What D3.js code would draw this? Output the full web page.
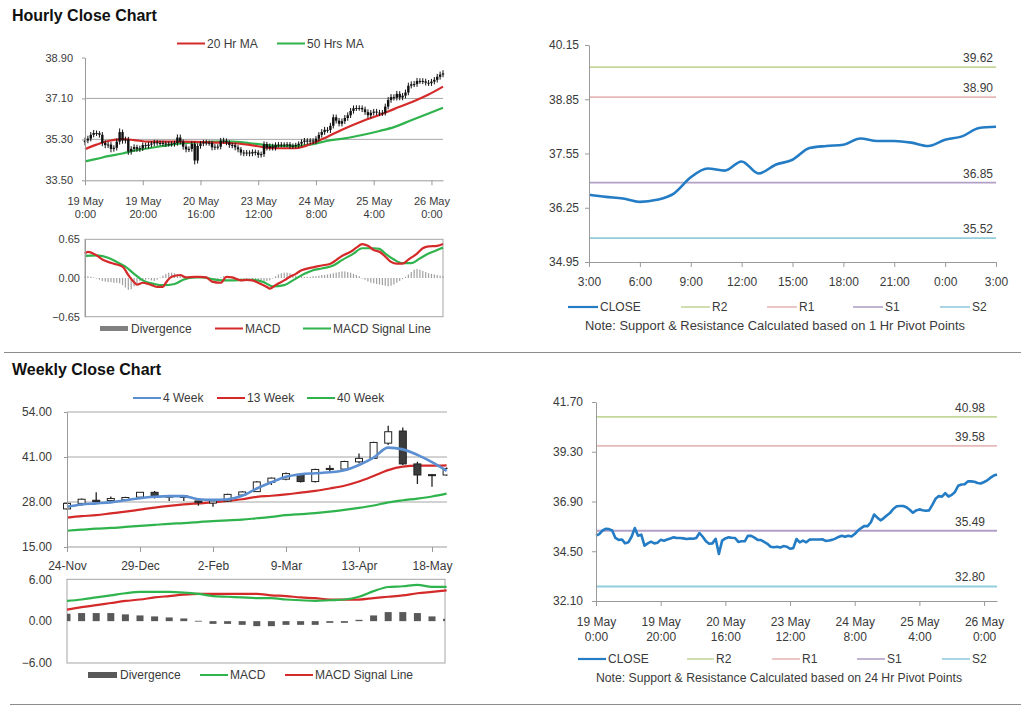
<!DOCTYPE html>
<html><head><meta charset="utf-8">
<script src="https://cdn.jsdelivr.net/npm/d3@7"></script>
<style>
body{margin:0;background:#fff;}
svg{display:block;font-family:"Liberation Sans",Arial,sans-serif;}
.axis path,.axis line{stroke:#9a9a9a;stroke-width:1;}
.axis text{fill:#3a3a3a;}
</style></head><body>
<svg id="c" width="1024" height="706"></svg>
<script>
// ---------------- DATA ----------------
// Hourly bars (19 May 0:00 .. 26 May ~4:00), 125 trading hours
const hourlyTickIdx = [0,20,40,60,80,100,120];
const hourlyTickDay = ["19 May","19 May","20 May","23 May","24 May","25 May","26 May"];
const hourlyTickTime = ["0:00","20:00","16:00","12:00","8:00","4:00","0:00"];
const hourlyOpen = [35.18,35.25,35.33,35.50,35.58,35.57,35.50,35.14,35.05,35.07,
 34.88,34.93,35.20,35.62,35.25,35.30,34.77,34.88,34.96,34.88,
 34.91,35.05,35.01,35.07,35.12,35.17,35.14,35.14,35.12,35.09,
 35.11,35.10,35.14,35.38,35.20,34.98,34.86,34.88,35.10,34.37,
 35.01,35.12,35.17,35.15,35.14,34.95,34.98,34.98,35.25,35.24,
 35.16,35.05,35.04,34.95,34.86,34.72,34.69,34.72,34.68,34.75,
 34.72,34.62,34.65,35.09,34.93,35.01,34.93,35.06,35.07,35.07,
 35.07,35.08,35.00,35.02,35.05,35.11,35.19,35.25,35.20,35.25,
 35.21,35.33,35.50,35.62,35.72,35.71,35.90,36.27,36.12,35.99,
 36.10,36.24,36.36,36.55,36.67,36.68,36.68,36.62,36.50,36.36,
 36.47,36.52,36.48,36.45,36.47,36.74,37.03,37.16,37.13,37.30,
 37.14,37.22,37.36,37.66,37.72,37.73,37.87,37.87,37.85,37.79,
 37.77,37.84,37.92,38.05,38.15];
const hourlyHigh = [35.38,35.46,35.62,35.71,35.69,35.66,35.62,35.26,35.19,35.18,
 35.04,35.33,35.78,35.73,35.42,35.41,35.00,35.08,35.06,35.02,
 35.16,35.15,35.18,35.22,35.28,35.27,35.25,35.24,35.22,35.21,
 35.21,35.24,35.52,35.51,35.30,35.09,34.99,35.22,35.20,35.12,
 35.23,35.28,35.28,35.25,35.24,35.09,35.09,35.36,35.37,35.34,
 35.26,35.15,35.14,35.05,34.96,34.83,34.83,34.82,34.86,34.85,
 34.83,34.76,35.21,35.19,35.12,35.11,35.17,35.18,35.18,35.17,
 35.18,35.18,35.12,35.15,35.21,35.30,35.36,35.35,35.35,35.35,
 35.44,35.62,35.75,35.85,35.84,36.03,36.40,36.39,36.24,36.22,
 36.37,36.49,36.68,36.79,36.80,36.80,36.79,36.74,36.62,36.59,
 36.64,36.64,36.60,36.59,36.87,37.16,37.29,37.28,37.43,37.42,
 37.34,37.49,37.79,37.85,37.86,38.00,37.99,37.99,37.97,37.91,
 37.96,38.04,38.18,38.28,38.34];
const hourlyLow = [35.04,35.13,35.21,35.39,35.45,35.38,35.00,34.91,34.92,34.73,
 34.76,34.81,35.07,35.11,35.12,34.62,34.63,34.76,34.75,34.75,
 34.79,34.89,34.89,34.95,35.00,35.02,35.02,35.00,34.97,34.98,
 34.98,34.98,35.02,35.08,34.85,34.73,34.74,34.76,34.20,34.24,
 34.89,35.00,35.03,35.02,34.82,34.83,34.85,34.86,35.12,35.04,
 34.93,34.91,34.82,34.73,34.59,34.56,34.57,34.55,34.56,34.59,
 34.49,34.50,34.53,34.81,34.81,34.81,34.81,34.94,34.95,34.95,
 34.95,34.88,34.89,34.91,34.93,34.99,35.07,35.08,35.08,35.09,
 35.09,35.21,35.38,35.50,35.59,35.58,35.78,36.00,35.87,35.87,
 35.98,36.12,36.24,36.43,36.55,36.56,36.50,36.38,36.23,36.24,
 36.35,36.36,36.33,36.33,36.35,36.62,36.91,37.01,37.01,37.02,
 37.02,37.10,37.24,37.54,37.60,37.61,37.74,37.73,37.67,37.65,
 37.65,37.72,37.80,37.93,38.03];
const hourlyClose = [35.25,35.33,35.50,35.58,35.57,35.50,35.14,35.05,35.07,34.88,
 34.93,35.20,35.62,35.25,35.30,34.77,34.88,34.96,34.88,34.91,
 35.05,35.01,35.07,35.12,35.17,35.14,35.14,35.12,35.09,35.11,
 35.10,35.14,35.38,35.20,34.98,34.86,34.88,35.10,34.37,35.01,
 35.12,35.17,35.15,35.14,34.95,34.98,34.98,35.25,35.24,35.16,
 35.05,35.04,34.95,34.86,34.72,34.69,34.72,34.68,34.75,34.72,
 34.62,34.65,35.09,34.93,35.01,34.93,35.06,35.07,35.07,35.07,
 35.08,35.00,35.02,35.05,35.11,35.19,35.25,35.20,35.25,35.21,
 35.33,35.50,35.62,35.72,35.71,35.90,36.27,36.12,35.99,36.10,
 36.24,36.36,36.55,36.67,36.68,36.68,36.62,36.50,36.36,36.47,
 36.52,36.48,36.45,36.47,36.74,37.03,37.16,37.13,37.30,37.14,
 37.22,37.36,37.66,37.72,37.73,37.87,37.87,37.85,37.79,37.77,
 37.84,37.92,38.05,38.15,38.20];
const hourlyYTicks = [33.50,35.30,37.10,38.90];
const hourlyMAIdx = [0,4,8,13,17,22,27,31,34,38,45,51,57,62,67,73,79,84,90,96,102,107,113,119,124];
const hourlyMA20 = [34.87,35.07,35.23,35.31,35.27,35.20,35.20,35.20,35.20,35.19,35.16,35.13,35.06,34.95,34.91,34.91,35.14,35.42,35.78,36.10,36.37,36.63,36.93,37.27,37.62];
const hourlyMA50 = [34.33,34.44,34.56,34.68,34.80,34.91,35.01,35.09,35.13,35.16,35.20,35.20,35.13,35.06,35.01,35.01,35.09,35.24,35.34,35.49,35.67,35.84,36.14,36.44,36.69];

// Hourly MACD
const hourlyMacdIdx = [0,1,4,6,10,13,15,17,18,20,22,25,27,28,30,33,35,38,40,42,44,47,49,51,54,56,58,60,63,64,66,69,71,73,75,78,80,82,85,87,89,92,94,96,98,100,102,104,106,108,110,112,115,117,119,122,124];
const hourlyMacd = [0.41,0.44,0.38,0.31,0.24,0.19,0.05,-0.07,-0.11,-0.08,-0.10,-0.15,-0.15,-0.08,0.02,0.05,0.01,0.02,0.02,0.01,-0.06,-0.08,0.02,0.01,-0.04,-0.03,-0.04,-0.08,-0.15,-0.18,-0.12,-0.04,0.02,0.07,0.13,0.17,0.19,0.21,0.24,0.30,0.37,0.44,0.51,0.57,0.54,0.47,0.44,0.36,0.27,0.24,0.24,0.31,0.41,0.50,0.53,0.54,0.57];
const hourlySignalIdx = [0,4,8,11,14,17,20,24,27,31,34,38,41,44,48,51,55,58,62,65,69,72,76,79,82,86,89,93,96,100,102,104,107,110,113,116,119,122,124];
const hourlySignal = [0.37,0.38,0.34,0.27,0.19,0.07,-0.04,-0.10,-0.12,-0.10,-0.03,0.01,0.01,-0.02,-0.04,-0.04,-0.03,-0.03,-0.07,-0.14,-0.12,-0.04,0.07,0.13,0.16,0.21,0.30,0.41,0.50,0.50,0.49,0.41,0.31,0.25,0.25,0.33,0.41,0.47,0.51];
const hourlyDiv = [0.02,0.03,0.02,0.01,0.00,-0.03,-0.05,-0.06,-0.07,-0.07,
 -0.08,-0.08,-0.09,-0.12,-0.16,-0.20,-0.19,-0.14,-0.09,-0.05,
 -0.04,-0.03,-0.02,-0.04,-0.05,-0.03,0.01,0.04,0.07,0.09,
 0.09,0.08,0.06,0.04,0.02,0.01,0.01,0.01,0.00,0.01,
 0.01,0.00,-0.01,-0.03,-0.04,-0.04,-0.03,0.01,0.03,0.03,
 0.02,0.01,-0.01,-0.01,0.00,0.00,-0.01,-0.01,-0.02,-0.03,
 -0.04,-0.05,-0.06,-0.05,-0.04,-0.01,0.03,0.06,0.08,0.09,
 0.09,0.08,0.06,0.04,0.03,0.03,0.02,0.02,0.02,0.03,
 0.03,0.04,0.05,0.05,0.06,0.07,0.08,0.09,0.10,0.11,
 0.11,0.10,0.09,0.07,0.05,0.03,0.00,-0.03,-0.06,-0.08,
 -0.09,-0.10,-0.11,-0.12,-0.13,-0.14,-0.13,-0.11,-0.08,-0.05,
 -0.02,0.02,0.06,0.10,0.14,0.15,0.14,0.12,0.10,0.08,
 0.07,0.06,0.05,0.04,0.03];
const hourlyMacdYTicks = [-0.65,0,0.65];

// 1 Hr pivot chart (last 24 hours)
const pivot1Labels = ["3:00","6:00","9:00","12:00","15:00","18:00","21:00","0:00","3:00"];
const pivot1Close = [36.56,36.51,36.47,36.39,36.44,36.59,36.98,37.19,37.14,37.36,37.07,37.28,37.40,37.68,37.73,37.76,37.91,37.85,37.85,37.81,37.73,37.88,37.96,38.16,38.19];
const pivot1Levels = [39.62,38.90,36.85,35.52]; // R2, R1, S1, S2
const pivot1YTicks = [34.95,36.25,37.55,38.85,40.15];

// 24 Hr pivot chart
const pivot24Levels = [40.98,39.58,35.49,32.80]; // R2, R1, S1, S2
const pivot24YTicks = [32.10,34.50,36.90,39.30,41.70];

const pivotNames = ["R2","R1","S1","S2"];
const pivotColors = ["#c4d79b","#e6b9b8","#b1a0c7","#92cddc"];

// Weekly bars (24-Nov .. 25-May)
const weeklyTickIdx = [0,5,10,15,20,25];
const weeklyTickLabels = ["24-Nov","29-Dec","2-Feb","9-Mar","13-Apr","18-May"];
const weeklyOpen  = [26.0,27.6,28.5,28.4,28.7,29.4,30.8,29.4,29.3,28.3,27.7,28.3,30.0,31.0,33.7,34.6,36.0,33.9,37.7,37.5,39.6,40.6,45.0,48.5,39.0,35.9,35.8];
const weeklyHigh  = [27.8,29.0,30.8,29.6,29.5,30.9,31.2,29.9,29.9,28.4,28.4,30.4,31.1,34.1,35.1,36.5,36.4,37.6,38.6,39.9,42.0,45.4,50.0,49.5,39.6,36.0,38.0];
const weeklyLow   = [25.8,26.9,27.7,28.0,28.5,29.3,29.0,28.3,28.3,26.9,26.6,28.0,29.8,30.9,32.9,34.3,33.6,33.6,36.9,37.3,39.2,40.4,44.5,38.7,33.2,32.4,35.6];
const weeklyClose = [27.6,28.8,28.1,29.0,29.3,30.8,29.6,29.8,29.8,27.9,28.3,30.2,30.9,33.8,34.9,36.2,33.9,37.4,37.4,39.7,40.6,45.2,48.3,39.0,35.8,35.7,37.7];
const weeklyMA4  = [26.6,27.3,27.6,27.9,28.5,29.1,29.5,29.7,29.7,28.8,28.6,28.8,29.8,31.9,33.7,35.3,36.0,36.3,36.6,37.2,38.7,40.8,43.7,43.2,41.6,39.5,37.0];
const weeklyMA13 = [23.5,23.9,24.2,24.7,25.2,25.8,26.4,26.9,27.3,27.6,27.9,28.3,28.8,29.5,29.8,30.2,30.7,31.2,31.9,32.7,33.9,35.5,37.2,38.2,38.5,38.5,38.6];
const weeklyMA40 = [19.7,20.0,20.3,20.5,20.8,21.1,21.4,21.7,21.9,22.2,22.5,22.7,22.9,23.3,23.7,24.2,24.5,24.8,25.2,25.7,26.3,27.0,27.9,28.5,29.0,29.6,30.4];
const weeklyYTicks = [15,28,41,54];

// Weekly MACD
const weeklyMacd   = [2.9,3.1,3.4,3.7,4.0,4.2,4.2,4.2,4.1,3.9,3.6,3.5,3.4,3.3,3.3,3.1,3.0,2.9,3.0,3.1,3.5,4.3,4.9,5.0,5.2,4.9,4.9];
const weeklySignal = [1.65,2.0,2.3,2.6,2.9,3.1,3.4,3.6,3.8,3.9,3.9,3.9,3.9,3.9,3.7,3.6,3.4,3.3,3.1,3.1,3.1,3.3,3.5,3.7,4.0,4.2,4.4];
const weeklyDiv    = [1.06,1.16,1.16,1.16,0.97,0.82,0.68,0.53,0.39,0.05,-0.39,-0.39,-0.53,-0.72,-0.72,-0.53,-0.53,-0.53,-0.24,-0.24,0.19,0.82,1.3,1.3,1.16,0.68,0.34];
const weeklyMacdYTicks = [-6,0,6];

// ---------------- DRAW ----------------
const svg = d3.select("#c");
const RED = "#d42a2a", GREEN = "#2fb34c", BLUE4 = "#5b8fd1", CLOSEBLUE = "#237cc4";
const XLAB = "#4a3550";
const fmt2 = d3.format(".2f");

function styleAxis(g, fs){
  g.attr("class","axis").attr("font-size",fs).attr("font-family",null);
  return g;
}
function hline(g, x1, x2, y, color, w){
  return g.append("line").attr("x1",x1).attr("x2",x2).attr("y1",y).attr("y2",y)
    .attr("stroke",color).attr("stroke-width",w||1);
}
function legendLine(x1,x2,y,color,w,label,fs){
  hline(svg,x1,x2,y,color,w);
  svg.append("text").attr("x",x2+2).attr("y",y+4.2).attr("font-size",fs||12)
    .attr("fill","#3a3a3a").text(label);
}
function legendBox(x1,x2,y,color,h,label,fs){
  svg.append("rect").attr("x",x1).attr("y",y-h/2).attr("width",x2-x1).attr("height",h).attr("fill",color);
  svg.append("text").attr("x",x2+3).attr("y",y+4.2).attr("font-size",fs||12)
    .attr("fill","#3a3a3a").text(label);
}
function twoLineLabels(g, days, times, y1, y2){
  g.selectAll(".tick text").each(function(d,i){
    const t = d3.select(this);
    t.text(null).attr("dy",null).attr("y",null).attr("fill",XLAB);
    t.append("tspan").attr("x",0).attr("y",y1).text(days[i]);
    t.append("tspan").attr("x",0).attr("y",y2).text(times[i]);
  });
}

// titles and separators
svg.append("text").attr("x",12).attr("y",21).attr("font-size",16).attr("font-weight","bold").attr("fill","#111").text("Hourly Close Chart");
svg.append("text").attr("x",12).attr("y",375).attr("font-size",16).attr("font-weight","bold").attr("fill","#111").text("Weekly Close Chart");
hline(svg,4,1021,352.5,"#8c8c8c",1.2);
hline(svg,10,1021,704.5,"#8c8c8c",1.2);

// ===== Hourly candlestick chart =====
{
  const xH = d3.scaleLinear().domain([0,124]).range([85,443]);
  const yH = d3.scaleLinear().domain([33.5,38.9]).range([180.3,57.5]);
  const g = svg.append("g");
  [35.3,37.1].forEach(v=>hline(g,85,443,yH(v),"#a6a6a6",1));
  const maLine = d3.line().x(d=>xH(d[0])).y(d=>yH(d[1])).curve(d3.curveMonotoneX);
  g.append("path").attr("d",maLine(d3.zip(hourlyMAIdx,hourlyMA50))).attr("fill","none").attr("stroke",GREEN).attr("stroke-width",2.2);
  g.append("path").attr("d",maLine(d3.zip(hourlyMAIdx,hourlyMA20))).attr("fill","none").attr("stroke",RED).attr("stroke-width",2.2);
  const idx = d3.range(hourlyClose.length);
  g.selectAll(".hw").data(idx).join("line")
    .attr("x1",i=>xH(i)).attr("x2",i=>xH(i))
    .attr("y1",i=>yH(hourlyHigh[i])).attr("y2",i=>yH(hourlyLow[i]))
    .attr("stroke","#111").attr("stroke-width",1);
  g.selectAll(".hb").data(idx).join("rect")
    .attr("x",i=>xH(i)-1.2).attr("width",2.4)
    .attr("y",i=>yH(Math.max(hourlyOpen[i],hourlyClose[i])))
    .attr("height",i=>Math.max(1,Math.abs(yH(hourlyOpen[i])-yH(hourlyClose[i]))))
    .attr("fill","#111");
  const ax = svg.append("g").attr("transform","translate(85,0)")
    .call(d3.axisLeft(yH).tickValues(hourlyYTicks).tickFormat(fmt2).tickSize(3).tickSizeOuter(0).tickPadding(9));
  styleAxis(ax,11);
  const bx = svg.append("g").attr("transform",`translate(0,${yH(33.5)})`)
    .call(d3.axisBottom(xH).tickValues(hourlyTickIdx).tickSize(5).tickSizeOuter(0));
  styleAxis(bx,11);
  twoLineLabels(bx,hourlyTickDay,hourlyTickTime,24.5,38);
  legendLine(177,205,43.5,RED,2,"20 Hr MA");
  legendLine(277,305,43.5,GREEN,2,"50 Hrs MA");
}

// ===== Hourly MACD =====
{
  const xH = d3.scaleLinear().domain([0,124]).range([85,443]);
  const yM = d3.scaleLinear().domain([-0.65,0.65]).range([316.7,239.3]);
  const g = svg.append("g");
  g.append("rect").attr("x",85).attr("y",yM(0.65)).attr("width",358).attr("height",yM(-0.65)-yM(0.65))
    .attr("fill","none").attr("stroke","#a6a6a6");
  g.selectAll(".hd").data(hourlyDiv).join("rect")
    .attr("x",(d,i)=>xH(i)-0.6).attr("width",1.2)
    .attr("y",d=>yM(Math.max(0,d))).attr("height",d=>Math.max(0.6,Math.abs(yM(d)-yM(0))))
    .attr("fill","#a0a0a0");
  const ln = d3.line().x(d=>xH(d[0])).y(d=>yM(d[1])).curve(d3.curveMonotoneX);
  g.append("path").attr("d",ln(d3.zip(hourlySignalIdx,hourlySignal))).attr("fill","none").attr("stroke",GREEN).attr("stroke-width",2.2);
  g.append("path").attr("d",ln(d3.zip(hourlyMacdIdx,hourlyMacd))).attr("fill","none").attr("stroke",RED).attr("stroke-width",2.2);
  const ax = svg.append("g").attr("transform","translate(85,0)")
    .call(d3.axisLeft(yM).tickValues(hourlyMacdYTicks).tickFormat(fmt2).tickSize(0).tickSizeOuter(0).tickPadding(5));
  styleAxis(ax,11);
  legendBox(100,128,328.5,"#808080",5,"Divergence");
  legendLine(215,243,328.5,RED,2,"MACD");
  legendLine(303,331,328.5,GREEN,2,"MACD Signal Line");
}

// ===== 1 Hr pivot chart =====
{
  const xR = d3.scaleLinear().domain([0,24]).range([589,996]);
  const yR = d3.scaleLinear().domain([34.95,40.15]).range([262,45]);
  const g = svg.append("g");
  pivot1Levels.forEach((v,k)=>{
    hline(g,589,996,yR(v),pivotColors[k],1.8);
    g.append("text").attr("x",993).attr("y",yR(v)-5).attr("text-anchor","end").attr("font-size",12).attr("fill","#3a3a3a").text(fmt2(v));
  });
  const ln = d3.line().x((d,i)=>xR(i)).y(d=>yR(d)).curve(d3.curveMonotoneX);
  g.append("path").attr("d",ln(pivot1Close)).attr("fill","none").attr("stroke",CLOSEBLUE).attr("stroke-width",2.6);
  const ax = svg.append("g").attr("transform","translate(589,0)")
    .call(d3.axisLeft(yR).tickValues(pivot1YTicks).tickFormat(fmt2).tickSize(4).tickSizeOuter(0).tickPadding(6));
  styleAxis(ax,12);
  const bx = svg.append("g").attr("transform","translate(0,262)")
    .call(d3.axisBottom(xR).tickValues(d3.range(0,25,3)).tickFormat((d,i)=>pivot1Labels[i]).tickSize(5).tickSizeOuter(0).tickPadding(10));
  styleAxis(bx,12);
  legendLine(568,598,307,CLOSEBLUE,2.2,"CLOSE");
  pivotNames.forEach((n,k)=>legendLine([681,767,853,940][k],[710,797,883,970][k],307,pivotColors[k],1.6,n));
  svg.append("text").attr("x",775).attr("y",330).attr("text-anchor","middle").attr("font-size",12).attr("fill","#3a3a3a")
    .attr("textLength",380).attr("lengthAdjust","spacingAndGlyphs")
    .text("Note: Support & Resistance Calculated based on 1 Hr Pivot Points");
}

// ===== 24 Hr pivot chart =====
{
  const xB = d3.scaleLinear().domain([0,124]).range([596,997]);
  const yB = d3.scaleLinear().domain([32.1,41.7]).range([601,402]);
  const g = svg.append("g");
  pivot24Levels.forEach((v,k)=>{
    hline(g,596,997,yB(v),pivotColors[k],1.8);
    g.append("text").attr("x",985).attr("y",yB(v)-5).attr("text-anchor","end").attr("font-size",12).attr("fill","#3a3a3a").text(fmt2(v));
  });
  const ln = d3.line().x((d,i)=>xB(i)).y(d=>yB(d));
  g.append("path").attr("d",ln(hourlyClose)).attr("fill","none").attr("stroke",CLOSEBLUE).attr("stroke-width",2.6).attr("stroke-linejoin","round");
  const ax = svg.append("g").attr("transform","translate(596,0)")
    .call(d3.axisLeft(yB).tickValues(pivot24YTicks).tickFormat(fmt2).tickSize(4).tickSizeOuter(0).tickPadding(9));
  styleAxis(ax,12);
  const bx = svg.append("g").attr("transform","translate(0,601)")
    .call(d3.axisBottom(xB).tickValues(hourlyTickIdx).tickSize(5).tickSizeOuter(0));
  styleAxis(bx,12);
  twoLineLabels(bx,hourlyTickDay,hourlyTickTime,25,40);
  legendLine(578,606,659,CLOSEBLUE,2.2,"CLOSE");
  pivotNames.forEach((n,k)=>legendLine([687,772,857,942][k],[714,800,885,970][k],659,pivotColors[k],1.6,n));
  svg.append("text").attr("x",779).attr("y",682).attr("text-anchor","middle").attr("font-size",12).attr("fill","#3a3a3a")
    .attr("textLength",366).attr("lengthAdjust","spacingAndGlyphs")
    .text("Note: Support & Resistance Calculated based on 24 Hr Pivot Points");
}

// ===== Weekly candlestick chart =====
{
  const xW = d3.scaleLinear().domain([0,26]).range([67,446.6]);
  const yW = d3.scaleLinear().domain([15,54]).range([547,412]);
  svg.append("clipPath").attr("id","wclip").append("rect").attr("x",0).attr("y",380).attr("width",447.5).attr("height",200);
  const g = svg.append("g");
  [28,41,54].forEach(v=>hline(g,67,447,yW(v),"#a6a6a6",1));
  const gc = g.append("g").attr("clip-path","url(#wclip)");
  const ln = d3.line().x((d,i)=>xW(i)).y(d=>yW(d)).curve(d3.curveMonotoneX);
  gc.append("path").attr("d",ln(weeklyMA40)).attr("fill","none").attr("stroke",GREEN).attr("stroke-width",2.2);
  gc.append("path").attr("d",ln(weeklyMA13)).attr("fill","none").attr("stroke",RED).attr("stroke-width",2.2);
  const idx = d3.range(weeklyClose.length);
  gc.selectAll(".ww").data(idx).join("line")
    .attr("x1",i=>xW(i)).attr("x2",i=>xW(i))
    .attr("y1",i=>yW(weeklyHigh[i])).attr("y2",i=>yW(weeklyLow[i]))
    .attr("stroke","#222").attr("stroke-width",1.3);
  gc.selectAll(".wb").data(idx).join("rect")
    .attr("x",i=>xW(i)-3.5).attr("width",7)
    .attr("y",i=>yW(Math.max(weeklyOpen[i],weeklyClose[i])))
    .attr("height",i=>Math.max(1,Math.abs(yW(weeklyOpen[i])-yW(weeklyClose[i]))))
    .attr("fill",i=>weeklyClose[i]>=weeklyOpen[i]?"#fff":"#3c3c3c")
    .attr("stroke","#222").attr("stroke-width",1);
  gc.append("path").attr("d",ln(weeklyMA4)).attr("fill","none").attr("stroke",BLUE4).attr("stroke-width",2.6);
  const ax = svg.append("g").attr("transform","translate(67,0)")
    .call(d3.axisLeft(yW).tickValues(weeklyYTicks).tickFormat(fmt2).tickSize(3).tickSizeOuter(0).tickPadding(12));
  styleAxis(ax,12);
  const bx = svg.append("g").attr("transform","translate(0,547)")
    .call(d3.axisBottom(xW).tickValues(weeklyTickIdx).tickFormat((d,i)=>weeklyTickLabels[i]).tickSize(5).tickSizeOuter(0).tickPadding(9));
  styleAxis(bx,12);
  bx.select(".domain").attr("d","M67,0H447");
  legendLine(133,161,398,BLUE4,2,"4 Week");
  legendLine(217,245,398,RED,2,"13 Week");
  legendLine(307,335,398,GREEN,2,"40 Week");
}

// ===== Weekly MACD =====
{
  const xW = d3.scaleLinear().domain([0,26]).range([67,446.6]);
  const yM = d3.scaleLinear().domain([-6,6]).range([663,579.3]);
  const g = svg.append("g");
  g.append("rect").attr("x",67).attr("y",yM(6)).attr("width",378).attr("height",yM(-6)-yM(6))
    .attr("fill","none").attr("stroke","#a6a6a6");
  g.selectAll(".wd").data(weeklyDiv).join("rect")
    .attr("x",(d,i)=>Math.max(67,xW(i)-3.5)).attr("width",(d,i)=>Math.min(7,445-(xW(i)-3.5), xW(i)+3.5-67))
    .attr("y",d=>yM(Math.max(0,d))).attr("height",d=>Math.max(0.8,Math.abs(yM(d)-yM(0))))
    .attr("fill","#595959");
  const ln = d3.line().x((d,i)=>xW(i)).y(d=>yM(d)).curve(d3.curveMonotoneX);
  g.append("path").attr("d",ln(weeklySignal)).attr("fill","none").attr("stroke",RED).attr("stroke-width",2.2);
  g.append("path").attr("d",ln(weeklyMacd)).attr("fill","none").attr("stroke",GREEN).attr("stroke-width",2.2);
  const ax = svg.append("g").attr("transform","translate(67,0)")
    .call(d3.axisLeft(yM).tickValues(weeklyMacdYTicks).tickFormat(fmt2).tickSize(0).tickSizeOuter(0).tickPadding(15));
  styleAxis(ax,12);
  ax.select(".domain").remove();
  legendBox(88,117,675,"#595959",6,"Divergence");
  legendLine(200,228,675,GREEN,2,"MACD");
  legendLine(285,313,675,RED,2,"MACD Signal Line");
}
</script>
</body></html>
